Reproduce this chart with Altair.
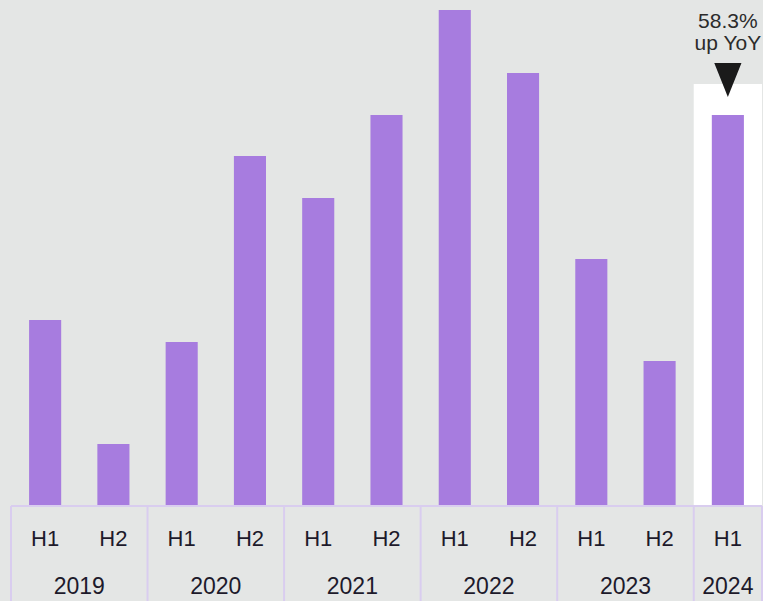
import altair as alt
import pandas as pd

halves = ["H1", "H2", "H1", "H2", "H1", "H2", "H1", "H2", "H1", "H2", "H1"]
years = ["2019", "2019", "2020", "2020", "2021", "2021", "2022", "2022", "2023", "2023", "2024"]
values = [186, 62, 164, 350, 308, 391, 496, 433, 247, 145, 391]
year_list = ["2019", "2020", "2021", "2022", "2023", "2024"]
annotation_lines = ["58.3%", "up YoY"]

BG = "#e4e6e5"
BAR = "#a77cdf"
LINE = "#d9cdef"
TXT = "#1d1a2b"

idx = list(range(len(values)))
df = pd.DataFrame({"idx": idx, "half": halves, "year": years, "value": values})
df["x0"] = df["idx"] - 0.235
df["x1"] = df["idx"] + 0.235

# group boundaries
yr_df = df.groupby("year", as_index=False).agg(first=("idx", "min"), last=("idx", "max"))
yr_df["center"] = (yr_df["first"] + yr_df["last"]) / 2
yr_df["left"] = yr_df["first"] - 0.5
bounds = pd.DataFrame({"b": list(yr_df["left"]) + [len(values) - 0.5]})

W, H = 751, 506
xs = alt.Scale(domain=[-0.5, len(values) - 0.5], nice=False, zero=False)
ys = alt.Scale(domain=[0, H], nice=False)

last = df[df["idx"] == df["idx"].max()].copy()
last["l"] = last["idx"] - 0.5
last["r"] = last["idx"] + 0.5
last["top"] = 422
last["tri"] = 426

highlight = alt.Chart(last).mark_rect(color="white").encode(
    x=alt.X("l:Q", scale=xs, axis=None), x2="r:Q",
    y=alt.Y("top:Q", scale=ys, axis=None), y2=alt.datum(0)
)

bars = alt.Chart(df).mark_rect(color=BAR).encode(
    x=alt.X("x0:Q", scale=xs, axis=None), x2="x1:Q",
    y=alt.Y("value:Q", scale=ys, axis=None), y2=alt.datum(0)
)

baseline = alt.Chart(bounds).mark_rule(color=LINE, strokeWidth=2).encode(
    x=alt.value(0), x2=alt.value(W), y=alt.value(H)
)

dividers = alt.Chart(bounds).mark_rule(color=LINE, strokeWidth=2).encode(
    x=alt.X("b:Q", scale=xs, axis=None), y=alt.value(H), y2=alt.value(H + 95)
)

hlabels = alt.Chart(df).mark_text(
    font="Liberation Sans", fontSize=22, color=TXT, baseline="alphabetic"
).encode(x=alt.X("idx:Q", scale=xs, axis=None), y=alt.value(546), text="half:N")

ylabels = alt.Chart(yr_df).mark_text(
    font="Liberation Sans", fontSize=23, color=TXT, baseline="alphabetic"
).encode(x=alt.X("center:Q", scale=xs, axis=None), y=alt.value(594), text="year:N")

tri = alt.Chart(last).mark_point(
    shape="M-0.8,-1L0.8,-1L0,1Z", filled=True, color="#1a1a1a", size=1156, opacity=1
).encode(x=alt.X("idx:Q", scale=xs, axis=None), y=alt.Y("tri:Q", scale=ys, axis=None))

ann_df = pd.DataFrame({"t": annotation_lines, "row": [0, 1]})
ann_df["idx"] = float(last["idx"].iloc[0])
ann = alt.Chart(ann_df).mark_text(
    font="Liberation Sans", fontSize=21, color="#2b2b2b", baseline="alphabetic"
).encode(
    x=alt.X("idx:Q", scale=xs, axis=None),
    y=alt.Y("ypos:Q", scale=ys, axis=None),
    text="t:N",
).transform_calculate(ypos=f"{H} - (28 + datum.row * 22)")

chart = alt.layer(highlight, bars, baseline, dividers, hlabels, ylabels, tri, ann).properties(
    width=W, height=H,
    background=BG,
    padding={"left": 11, "top": 0, "right": 1, "bottom": 95},
    autosize=alt.AutoSizeParams(type="none"),
).configure_view(stroke=None)

chart.save("out.html", embed_options={"renderer": "svg", "actions": False})
